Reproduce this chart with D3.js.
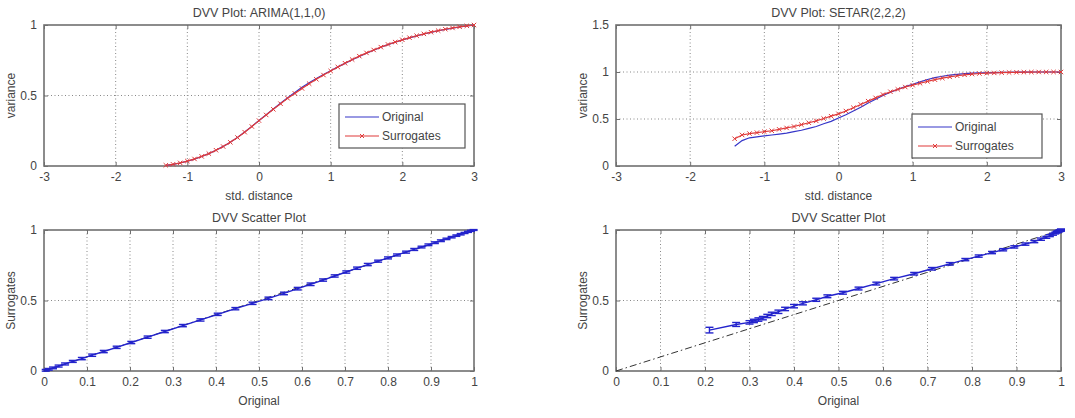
<!DOCTYPE html>
<html lang="en">
<head>
<meta charset="UTF-8"/>
<script src="https://d3js.org/d3.v7.min.js"></script>
<style>
body { margin: 0; background: #fff; }
svg { display: block; }
text { font-family: 'Liberation Sans', Arial, sans-serif; font-size: 12px; fill: #444; }
.frame { fill: none; stroke: #707070; stroke-width: 1.6; }
.grid line { stroke: #888; stroke-width: 1; stroke-dasharray: 1,2.5; }
.tick line { stroke: #707070; stroke-width: 1; }
.orig { fill: none; stroke: #3535c8; stroke-width: 1.2; }
.surr { fill: none; stroke: #e03a3a; stroke-width: 1.2; }
.mark { stroke: #e03a3a; stroke-width: 1; }
.err { stroke: #2323cc; stroke-width: 1.4; fill: none; }
.diag { stroke: #333; stroke-width: 1; stroke-dasharray: 7,3,1.5,3; fill: none; }
.legend rect { fill: #fff; stroke: #555; stroke-width: 1.2; }
</style>
</head>
<body>
<svg id="chart" width="1075" height="418"></svg>
<script>
// std. distance grid for the two DVV plots
const arimaDist = [-1.3,-1.2,-1.1,-1.0,-0.9,-0.8,-0.7,-0.6,-0.5,-0.4,-0.3,-0.2,-0.1,0.0,0.1,0.2,0.3,0.4,0.5,0.6,0.7,0.8,0.9,1.0,1.1,1.2,1.3,1.4,1.5,1.6,1.7,1.8,1.9,2.0,2.1,2.2,2.3,2.4,2.5,2.6,2.7,2.8,2.9,3.0];
const arimaOrig = [0.004,0.011,0.021,0.034,0.049,0.067,0.088,0.112,0.139,0.169,0.203,0.241,0.281,0.323,0.364,0.404,0.445,0.485,0.522,0.558,0.59,0.62,0.649,0.676,0.703,0.728,0.753,0.777,0.8,0.821,0.842,0.861,0.878,0.894,0.909,0.923,0.936,0.948,0.959,0.969,0.978,0.986,0.993,0.999];
const arimaSurr = [0.005,0.012,0.022,0.035,0.05,0.068,0.088,0.112,0.138,0.168,0.202,0.24,0.28,0.322,0.362,0.402,0.442,0.48,0.515,0.55,0.584,0.615,0.645,0.674,0.702,0.729,0.755,0.779,0.802,0.823,0.843,0.862,0.879,0.895,0.91,0.924,0.937,0.949,0.96,0.97,0.979,0.987,0.994,1.0];
const arimaErr  = [0.006,0.006,0.006,0.007,0.007,0.007,0.008,0.008,0.008,0.008,0.008,0.008,0.008,0.008,0.008,0.008,0.008,0.008,0.009,0.009,0.009,0.009,0.008,0.008,0.008,0.008,0.008,0.007,0.007,0.007,0.007,0.007,0.006,0.006,0.006,0.006,0.005,0.005,0.005,0.005,0.004,0.004,0.004,0.003];

const setarDist = [-1.4,-1.3,-1.2,-1.1,-1.0,-0.9,-0.8,-0.7,-0.6,-0.5,-0.4,-0.3,-0.2,-0.1,0.0,0.1,0.2,0.3,0.4,0.5,0.6,0.7,0.8,0.9,1.0,1.1,1.2,1.3,1.4,1.5,1.6,1.7,1.8,1.9,2.0,2.1,2.2,2.3,2.4,2.5,2.6,2.7,2.8,2.9,3.0];
const setarOrig = [0.21,0.27,0.3,0.31,0.32,0.33,0.34,0.35,0.365,0.38,0.4,0.42,0.45,0.475,0.51,0.545,0.585,0.625,0.67,0.71,0.75,0.785,0.815,0.845,0.87,0.895,0.92,0.94,0.955,0.967,0.975,0.982,0.987,0.99,0.992,0.994,0.996,0.997,0.998,0.999,1.0,1.0,1.0,1.0,1.0];
const setarSurr = [0.29,0.33,0.345,0.355,0.365,0.375,0.39,0.405,0.42,0.44,0.46,0.48,0.505,0.53,0.555,0.585,0.62,0.655,0.69,0.725,0.76,0.79,0.815,0.84,0.86,0.88,0.9,0.918,0.935,0.948,0.96,0.97,0.978,0.984,0.988,0.99,0.993,0.995,0.997,0.998,0.999,1.0,1.0,1.0,1.0];
const setarErr  = [0.02,0.014,0.012,0.012,0.012,0.012,0.012,0.012,0.012,0.012,0.012,0.011,0.011,0.01,0.01,0.01,0.01,0.009,0.009,0.009,0.009,0.008,0.008,0.008,0.008,0.008,0.008,0.008,0.008,0.007,0.007,0.007,0.006,0.006,0.006,0.006,0.005,0.005,0.005,0.005,0.004,0.004,0.004,0.004,0.004];

const distTicks = [-3,-2,-1,0,1,2,3];
const arimaVarTicks = [0, 0.5, 1];
const setarVarTicks = [0, 0.5, 1, 1.5];
const scatterXTicks = [0,0.1,0.2,0.3,0.4,0.5,0.6,0.7,0.8,0.9,1];
const scatterYTicks = [0, 0.5, 1];
const legendNames = ['Original', 'Surrogates'];

const svg = d3.select('#chart');
const fmt = d => String(+d.toFixed(2));

function axesBox(box, xDomain, yDomain, xTicks, yTicks, title, xLabel, yLabel) {
  const x = d3.scaleLinear().domain(xDomain).range([box.left, box.right]);
  const y = d3.scaleLinear().domain(yDomain).range([box.bottom, box.top]);
  const g = svg.append('g');

  // dotted grid at interior ticks
  const grid = g.append('g').attr('class', 'grid');
  grid.selectAll('.gx').data(xTicks.filter(t => t !== xDomain[0] && t !== xDomain[1]))
    .join('line').attr('x1', d => x(d)).attr('x2', d => x(d))
    .attr('y1', box.top).attr('y2', box.bottom);
  grid.selectAll('.gy').data(yTicks.filter(t => t !== yDomain[0] && t !== yDomain[1]))
    .join('line').attr('y1', d => y(d)).attr('y2', d => y(d))
    .attr('x1', box.left).attr('x2', box.right);

  // axes, matlab style: inward ticks on all four sides
  const h = box.bottom - box.top, w = box.right - box.left;
  g.append('g').attr('transform', `translate(0,${box.bottom})`)
    .call(d3.axisBottom(x).tickValues(xTicks).tickSize(-4).tickPadding(6).tickFormat(fmt));
  g.append('g').attr('transform', `translate(0,${box.top})`)
    .call(d3.axisTop(x).tickValues(xTicks).tickSize(-4).tickFormat(''));
  g.append('g').attr('transform', `translate(${box.left},0)`)
    .call(d3.axisLeft(y).tickValues(yTicks).tickSize(-4).tickPadding(7).tickFormat(fmt));
  g.append('g').attr('transform', `translate(${box.right},0)`)
    .call(d3.axisRight(y).tickValues(yTicks).tickSize(-4).tickFormat(''));
  g.selectAll('.domain').remove();
  g.selectAll('.tick text').style('font-size', '12px').attr('fill', '#444')
    .style('font-family', "'Liberation Sans', Arial, sans-serif");

  g.append('rect').attr('class', 'frame')
    .attr('x', box.left).attr('y', box.top).attr('width', w).attr('height', h);

  g.append('text').attr('x', (box.left + box.right) / 2).attr('y', box.top - 8)
    .attr('text-anchor', 'middle').style('font-size', '12.5px').text(title);
  g.append('text').attr('x', (box.left + box.right) / 2).attr('y', box.bottom + 34)
    .attr('text-anchor', 'middle').text(xLabel);
  g.append('text')
    .attr('transform', `translate(${box.left - 29},${(box.top + box.bottom) / 2}) rotate(-90)`)
    .attr('text-anchor', 'middle').text(yLabel);
  return { g, x, y };
}

function dvvPanel(box, dist, orig, surr, yDomain, yTicks, title, legendBox) {
  const { g, x, y } = axesBox(box, [-3, 3], yDomain, distTicks, yTicks, title, 'std. distance', 'variance');
  const line = d3.line().x(d => x(d[0])).y(d => y(d[1]));
  g.append('path').attr('class', 'orig').attr('d', line(d3.zip(dist, orig)));
  g.append('path').attr('class', 'surr').attr('d', line(d3.zip(dist, surr)));
  const m = g.append('g');
  d3.zip(dist, surr).forEach(p => {
    const cx = x(p[0]), cy = y(p[1]), s = 2.2;
    m.append('line').attr('class', 'mark').attr('x1', cx - s).attr('x2', cx + s).attr('y1', cy - s).attr('y2', cy + s);
    m.append('line').attr('class', 'mark').attr('x1', cx - s).attr('x2', cx + s).attr('y1', cy + s).attr('y2', cy - s);
  });

  // legend
  const lg = g.append('g').attr('class', 'legend').attr('transform', `translate(${legendBox.x},${legendBox.y})`);
  lg.append('rect').attr('width', legendBox.w).attr('height', 44);
  legendNames.forEach((name, i) => {
    const ly = 13 + i * 19;
    lg.append('line').attr('class', i === 0 ? 'orig' : 'surr').attr('x1', 6).attr('x2', 40).attr('y1', ly).attr('y2', ly);
    if (i === 1) {
      lg.append('line').attr('class', 'mark').attr('x1', 21).attr('x2', 25).attr('y1', ly - 2).attr('y2', ly + 2);
      lg.append('line').attr('class', 'mark').attr('x1', 21).attr('x2', 25).attr('y1', ly + 2).attr('y2', ly - 2);
    }
    lg.append('text').attr('x', 43).attr('y', ly + 4).text(name);
  });
}

function scatterPanel(box, orig, surr, err) {
  const { g, x, y } = axesBox(box, [0, 1], [0, 1], scatterXTicks, scatterYTicks, 'DVV Scatter Plot', 'Original', 'Surrogates');
  g.append('path').attr('class', 'diag')
    .attr('d', d3.line().x(d => x(d)).y(d => y(d))([0, 1]));
  const pts = d3.zip(orig, surr, err);
  g.append('path').attr('class', 'err').attr('d', d3.line().x(d => x(d[0])).y(d => y(d[1]))(pts));
  const eb = g.append('g');
  pts.forEach(p => {
    const cx = x(p[0]), y0 = y(p[1] - p[2]), y1 = y(p[1] + p[2]), c = 4;
    eb.append('line').attr('class', 'err').attr('x1', cx).attr('x2', cx).attr('y1', y0).attr('y2', y1);
    eb.append('line').attr('class', 'err').attr('x1', cx - c).attr('x2', cx + c).attr('y1', y0).attr('y2', y0);
    eb.append('line').attr('class', 'err').attr('x1', cx - c).attr('x2', cx + c).attr('y1', y1).attr('y2', y1);
  });
}

const boxTL = { left: 44, right: 474, top: 25, bottom: 166 };
const boxTR = { left: 616, right: 1061, top: 25, bottom: 166 };
const boxBL = { left: 44, right: 474, top: 230, bottom: 371 };
const boxBR = { left: 616, right: 1061, top: 230, bottom: 371 };

dvvPanel(boxTL, arimaDist, arimaOrig, arimaSurr, [0, 1], arimaVarTicks, 'DVV Plot: ARIMA(1,1,0)', { x: 339, y: 104, w: 126 });
dvvPanel(boxTR, setarDist, setarOrig, setarSurr, [0, 1.5], setarVarTicks, 'DVV Plot: SETAR(2,2,2)', { x: 912, y: 114, w: 130 });
scatterPanel(boxBL, arimaOrig, arimaSurr, arimaErr);
scatterPanel(boxBR, setarOrig, setarSurr, setarErr);
</script>
</body>
</html>
